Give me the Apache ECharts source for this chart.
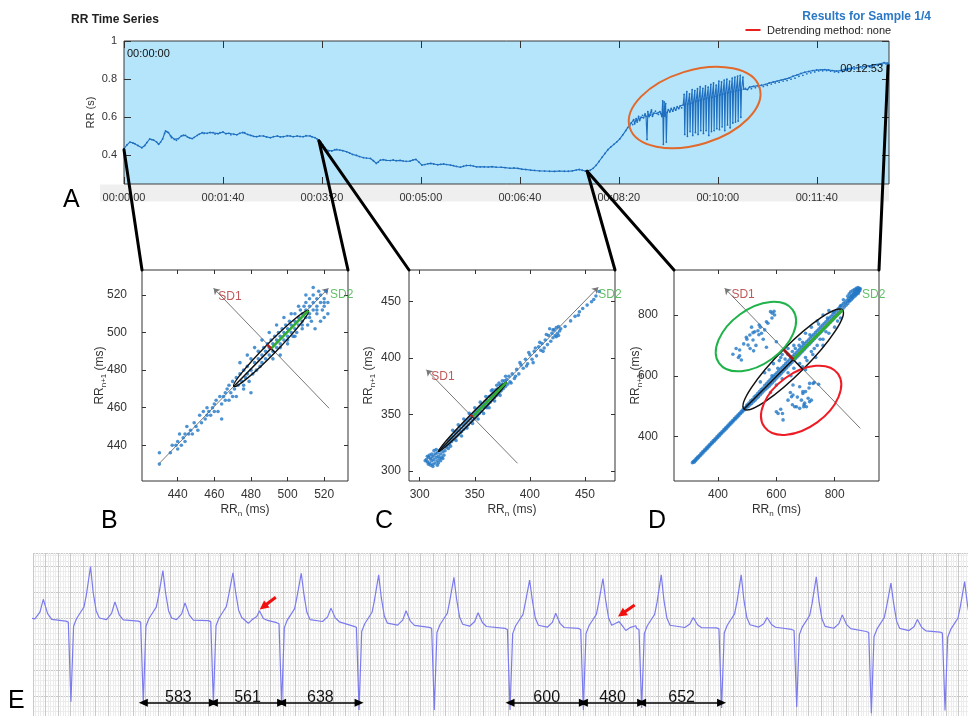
<!DOCTYPE html>
<html><head><meta charset="utf-8">
<script src="https://cdn.jsdelivr.net/npm/echarts@6/dist/echarts.min.js"></script>
<style>html,body{margin:0;padding:0;background:#fff}#c{width:968px;height:716px}</style>
</head><body><div id="c"></div>
<script>
// ---------------- DATA ----------------
// Panel A: RR time series [seconds, RR seconds]
const rrSeries = [[0,0.435],[3,0.455],[6,0.47],[9,0.465],[11,0.462],[14,0.452],[18,0.44],[21,0.452],[23,0.467],[26,0.486],[28,0.483],[30,0.48],[33,0.47],[35,0.458],[37,0.47],[39,0.486],[41,0.515],[42,0.528],[44,0.522],[45,0.519],[47,0.503],[48,0.493],[51,0.484],[53,0.479],[55,0.488],[58,0.502],[60,0.506],[62,0.505],[64,0.497],[66,0.492],[69,0.488],[71,0.495],[74,0.505],[76,0.512],[79,0.519],[81,0.515],[84,0.516],[87,0.52],[90,0.519],[92,0.512],[95,0.514],[97,0.519],[100,0.523],[103,0.514],[106,0.516],[108,0.508],[111,0.511],[114,0.508],[117,0.516],[120,0.52],[122,0.519],[125,0.51],[128,0.505],[131,0.5],[134,0.498],[137,0.502],[141,0.502],[144,0.497],[148,0.493],[151,0.498],[155,0.502],[158,0.497],[161,0.498],[165,0.503],[168,0.502],[171,0.498],[175,0.502],[178,0.499],[181,0.498],[184,0.503],[188,0.502],[190,0.497],[193,0.493],[195,0.487],[197,0.479],[199,0.47],[201,0.455],[203,0.44],[205,0.428],[207,0.423],[210,0.423],[213,0.43],[215,0.432],[218,0.428],[221,0.425],[225,0.419],[228,0.412],[231,0.405],[235,0.4],[238,0.394],[242,0.388],[245,0.386],[249,0.384],[252,0.372],[255,0.358],[257,0.365],[259,0.375],[262,0.378],[265,0.374],[269,0.373],[272,0.376],[275,0.372],[279,0.374],[282,0.371],[285,0.369],[289,0.37],[292,0.376],[295,0.379],[298,0.365],[301,0.349],[304,0.352],[307,0.356],[310,0.358],[313,0.355],[317,0.351],[320,0.353],[323,0.355],[326,0.352],[330,0.349],[333,0.346],[336,0.342],[340,0.338],[343,0.343],[346,0.347],[350,0.347],[353,0.344],[356,0.34],[360,0.34],[364,0.34],[368,0.339],[372,0.341],[376,0.338],[381,0.338],[385,0.336],[390,0.333],[394,0.334],[398,0.332],[402,0.328],[406,0.326],[411,0.323],[415,0.321],[420,0.319],[425,0.318],[430,0.317],[435,0.316],[440,0.318],[445,0.317],[449,0.317],[453,0.319],[457,0.323],[460,0.326],[463,0.322],[466,0.318],[468,0.317],[471,0.322],[474,0.332],[477,0.348],[480,0.368],[483,0.39],[486,0.41],[489,0.43],[492,0.445],[495,0.458],[498,0.471],[501,0.487],[504,0.508],[507,0.53],[509,0.546],
[511,0.556],[512.5,0.57],[514,0.562],[515,0.588],[516,0.565],[517.5,0.593],[518.5,0.575],[520,0.605],[521,0.583],[522.5,0.6],[524,0.61],[525,0.597],[526.5,0.618],[527.5,0.605],[528.5,0.484],[529.3,0.63],[530.5,0.603],[532,0.612],[533,0.638],[534,0.605],[535.5,0.622],[537,0.632],[538.5,0.62],[540,0.615],[541.5,0.63],[542.5,0.62],[543.5,0.604],[544.3,0.686],[545,0.458],[545.8,0.68],[546.6,0.605],[547.3,0.672],[548,0.47],[548.8,0.625],[550,0.64],[551.5,0.628],[553,0.646],[554.5,0.632],[556,0.65],[557.5,0.637],[559,0.656],[560.5,0.645],[562,0.66],[563.5,0.65],[565,0.664],
[566,0.72],[566.6,0.51],[567.3,0.668],[568.7,0.735],[569.3,0.5],[570,0.67],[571.4,0.722],[572,0.525],[572.7,0.674],[574.1,0.745],[574.7,0.505],[575.4,0.678],[576.8,0.74],[577.4,0.52],[578.1,0.684],[579.5,0.75],[580.1,0.51],[580.8,0.688],[582.2,0.76],[582.8,0.53],[583.5,0.692],[584.9,0.752],[585.5,0.515],[586.2,0.696],[587.6,0.765],[588.2,0.53],[588.9,0.7],[590.3,0.758],[590.9,0.505],[591.6,0.703],[593,0.772],[593.6,0.525],[594.3,0.706],[595.7,0.78],[596.3,0.53],[597,0.71],[598.4,0.768],[599,0.54],[599.7,0.714],[601.1,0.79],[601.7,0.535],[602.4,0.718],[603.8,0.785],[604.4,0.55],[605.1,0.722],[606.5,0.795],[607.1,0.53],[607.8,0.726],[609.2,0.8],[609.8,0.56],[610.5,0.73],[611.9,0.79],[612.5,0.545],[613.2,0.733],[614.6,0.805],[615.2,0.57],[615.9,0.736],[617.3,0.81],[617.9,0.575],[618.6,0.739],[620,0.815],[620.6,0.58],[621.3,0.742],[622.7,0.82],[623.3,0.6],[624,0.745],[625.4,0.81],[626.2,0.748],
[628,0.752],[630,0.745],[632,0.758],[634,0.75],[636,0.762],[638,0.755],[640,0.765],[642,0.758],[644,0.768],[646,0.762],[648,0.772],[650,0.768],[652,0.78],[654,0.774],[656,0.785],[658,0.78],[660,0.79],[662,0.784],[664,0.795],[666,0.79],[668,0.8],[670,0.793],[672,0.806],[674,0.8],[676,0.815],[678,0.805],[680,0.822],[682,0.815],[684,0.83],[686,0.82],[688,0.836],[690,0.828],[692,0.84],[694,0.833],[696,0.845],[698,0.838],[700,0.848],[702,0.843],[704,0.849],[706,0.844],[708,0.85],[710,0.845],[712,0.848],[714,0.842],[716,0.845],[718,0.838],[720,0.842],[722,0.836],[724,0.845],[726,0.84],[728,0.85],[730,0.845],[732,0.855],[734,0.849],[736,0.858],[738,0.852],[740,0.86],[742,0.855],[744,0.864],[746,0.858],[748,0.866],[750,0.862],[752,0.87],[754,0.864],[756,0.872],[758,0.867],[760,0.876],[762,0.871],[764,0.88],[766,0.876],[768,0.886],[770,0.88],[772,0.884],[773,0.874]];
const timeTicks = [0,100,200,300,400,500,600,700];
const rrTicks = [0.4,0.6,0.8,1];
// ellipse: [cx, cy, majorEndX, majorEndY, minorEndX, minorEndY]
const irregularEllipse = [[576.6,0.651,642.2,0.756,587.6,0.465]];
// connector start points on the time series (s, RR)
const linkPoints = [[0,0.43],[197,0.476],[468,0.317],[772,0.87]];

// Panel B Poincare (ms)
const poincareB = [[430,430],[430,436],[436,436],[437,440],[439,440],[440,438],[440,442],[441,446],[442,440],[443,444],[444,446],[444,442],[445,450],[446,446],[447,448],[448,446],[449,452],[450,450],[451,448],[452,456],[453,452],[454,458],[455,454],[456,456],[456,460],[457,458],[458,456],[459,460],[460,462],[460,458],[461,464],[462,458],[463,466],[464,462],[464,454],[465,466],[466,468],[466,464],[467,470],[468,464],[468,472],[469,468],[470,466],[470,474],[471,470],[472,476],[473,472],[474,478],[475,474],[476,472],[476,480],[477,476],[478,478],[478,482],[479,474],[480,468],[480,480],[480,486],[481,478],[482,484],[483,480],[484,486],[484,490],[485,482],[486,488],[486,484],[487,492],[488,486],[488,490],[489,494],[490,488],[490,492],[491,496],[492,490],[492,494],[493,498],[494,492],[494,496],[495,500],[496,494],[496,498],[496,488],[497,502],[498,496],[498,500],[499,504],[500,498],[500,502],[500,494],[501,506],[502,500],[502,504],[503,498],[504,502],[504,506],[504,510],[505,500],[506,504],[506,508],[507,512],[508,506],[508,510],[508,502],[509,514],[510,508],[510,512],[510,516],[511,504],[512,510],[512,514],[512,518],[513,506],[514,512],[514,516],[514,520],[514,524],[515,502],[516,514],[516,518],[516,510],[517,522],[518,516],[518,520],[518,506],[519,512],[520,514],[520,518],[521,522],[522,510],[522,516],[520,508],[510,520],[506,514],[502,510],[498,508],[494,504],[490,500],[486,496],[482,492],[478,488],[474,484],[492,486],[496,492],[500,496],[504,498],[508,504],[512,508],[516,512],[520,516],[476,470],[472,466]];
const ticksB = [440,460,480,500,520];
const ellipseB = [[491,491.5,511.4,511.7,488.9,493.6]];
const sd2B = [[491,491.5,511.4,511.7]], sd1B = [[491,491.5,488.9,493.6]], axB = [[470.6,471.3,491,491.5],[491,491.5,493.1,489.4]];
const guideB = [[[430,430.4],[522.3,523.6]],[[522.7,459.7],[459.6,523.6]]];
const sdLabB = [[462.2,519.1],[523.2,520]];

// Panel C Poincare (ms)
const poincareC = [[306,310],[307,308],[308,312],[309,307],[310,311],[311,309],[312,313],[313,310],[314,307],[314,315],[315,312],[316,309],[316,316],[317,313],[318,311],[318,318],[319,315],[320,312],[320,320],[321,317],[322,314],[308,306],[310,305],[312,306],[309,314],[313,318],[315,319],[317,307],[319,309],[311,315],[307,313],[305,309],[312,304],[316,305],[321,311],[323,318],[324,321],[322,322],
[325,323],[326,327],[327,324],[328,329],[329,326],[330,331],[331,328],[332,334],[333,330],[334,336],[335,332],[336,339],[337,334],[338,335],[339,341],[340,337],[341,343],[342,339],[343,345],[344,341],[345,347],[346,343],[347,349],[348,345],[349,351],[350,347],[351,353],[352,349],[353,355],[354,351],[355,357],[356,353],[357,359],[358,356],[359,361],[360,357],[361,363],[362,359],[363,366],[364,361],[365,367],[366,363],[367,369],[368,365],[369,372],[370,367],[371,373],[372,369],[373,376],[374,371],[375,377],[376,373],[377,380],[378,375],[379,381],[380,377],[381,384],[382,379],[383,378],[328,322],[333,327],[338,331],[343,338],[348,342],[353,346],[358,351],[363,356],[368,362],[373,367],[330,336],[335,341],[340,346],[345,351],[350,356],[355,361],[360,366],[365,371],[370,376],[375,380],[326,320],[361,356],[366,372],[372,378],[378,384],[384,386],[386,382],
[388,390],[390,386],[392,394],[394,391],[396,399],[398,395],[400,403],[402,399],[403,396],[404,406],[406,402],[408,410],[410,407],[411,413],[413,409],[414,416],[416,412],[417,420],[419,415],[420,422],[421,418],[422,425],[423,420],[424,427],[425,422],[426,428],[427,424],[418,426],[415,421],[412,406],[405,409],[397,393],[391,396],[387,384],[428,426],[409,414],[399,405],[421,425],[424,419],[426,420],
[432,428],[437,433],[441,437],[445,441],[448,444],[452,447],[456,450],[460,455],[463,459],[458,452],[444,438]];
const ticksC = [300,350,400,450];
const ellipseC = [[348,348,378.8,378.7,346.2,349.8]];
const sd2C = [[348,348,378.8,378.7]], sd1C = [[348,348,346.2,349.8]], axC = [[317.2,317.3,348,348],[348,348,349.8,346.2]];
const guideC = [[[306,306.8],[462.1,462.8]],[[388.8,306.8],[306.1,389.7]]];
const sdLabC = [[310.6,383.2],[462.1,455.9]];

// Panel D Poincare (ms)
const poincareD = [[312,314],[315,318],[318,316],[320,322],[323,321],[325,328],[328,326],[330,333],[333,331],[336,338],[339,337],[342,345],[345,343],[348,351],[351,349],[354,357],[357,355],[360,363],[363,361],[366,369],[369,367],[372,375],[375,373],[378,381],[381,379],[384,387],[387,385],[390,393],[393,391],[396,399],[399,397],[402,405],[405,403],[408,411],[411,409],[414,417],[417,415],[420,423],[423,421],[426,429],[429,427],[432,435],[435,433],[438,441],[441,439],[444,447],[447,445],[450,453],[453,451],[456,459],[459,457],[462,465],[465,463],[468,471],[471,469],[474,477],[477,475],[480,483],[483,481],[486,489],[489,487],[492,495],[495,493],[498,501],
[500,505],[503,498],[506,510],[509,504],[512,518],[515,509],[518,522],[521,515],[524,530],[527,520],[530,535],[533,526],[536,542],[539,531],[542,548],[545,538],[548,555],[551,544],[554,560],[557,550],[560,568],[563,556],[566,574],[569,561],[572,580],[575,566],[578,586],[581,572],[584,592],[587,578],[590,598],[593,584],[596,604],[599,590],[602,610],[605,596],[608,616],[611,602],[614,622],[617,608],[620,628],[623,614],[626,634],[629,620],[632,640],[635,626],[638,646],[641,632],[644,652],[647,638],[650,658],[653,644],[656,664],[659,650],[662,670],[665,656],[668,676],[671,662],[674,682],[677,668],[680,688],[683,674],[686,694],[689,680],[692,700],[695,686],[698,706],[701,692],[704,712],[707,698],[710,718],[713,704],[716,724],[719,710],[722,730],[725,716],[728,736],[731,722],[734,742],[737,728],[740,748],[743,734],[746,754],[749,740],[752,760],[755,746],[758,766],[761,752],[764,772],[767,758],[770,778],[773,764],[776,784],[779,770],[782,790],[785,776],[788,796],[791,782],[794,802],[797,788],[800,808],[803,794],[806,814],[809,800],[812,820],[815,806],[818,826],[821,812],[824,832],[827,818],[830,838],[833,826],[836,842],[839,832],[842,848],[845,838],[848,854],[851,845],[854,860],[857,850],[860,866],[863,857],[866,872],[869,862],[872,878],[875,869],[878,884],[881,875],[884,888],[886,880],[888,886],[876,882],[870,874],[865,868],[858,862],
[560,610],[575,620],[590,640],[610,650],[620,670],[640,690],[660,700],[680,720],[700,740],[720,760],[740,780],[760,800],[780,815],[600,570],[620,590],[640,610],[660,625],[680,640],[700,660],[720,680],[740,700],[760,720],[780,740],[800,760],[820,790],[650,600],[690,630],[730,690],[770,745],[810,780],[580,545],[545,580],[700,620],[735,660],[760,700],[615,660],[640,670],[665,690],[690,710],[715,735],[745,770],[775,790],[795,810],[820,830],[705,650],[725,670],[750,720],[585,600],[605,625],[630,655],[655,680],[678,700],[830,850],[845,862],[850,870],[855,876],[862,880],[868,884],[874,888],[880,890],[878,870],[872,866],[860,855],[850,848],
[451,671],[474,685],[480,652],[497,727],[499,720],[509,734],[520,718],[526,745],[537,748],[522,682],[541,767],[549,740],[560,751],[566,778],[571,773],[580,811],[586,806],[566,694],[594,800],[600,712],[474,666],[503,701],[462,690],[470,660],[488,705],[510,690],[515,760],[530,700],[545,760],[555,720],[585,790],[592,812],[540,735],[520,742],
[600,482],[606,476],[621,476],[623,455],[652,531],[657,537],[663,498],[669,498],[680,493],[686,520],[691,542],[694,498],[697,510],[703,498],[709,526],[714,515],[720,520],[657,570],[680,564],[714,575],[726,575],[691,548],[615,490],[640,520],[655,505],[672,530],[700,548],[712,560],[730,578],[745,572],[648,545],[695,505]];
const ticksD = [400,600,800];
const ellipseD = [[657.8,653.6,826.5,816.4,624.8,686.8]];
const shortLongCluster = [[530,729,656,817,478,804]];
const longShortCluster = [[685,519.4,811,607,633,594]];
const sd2D = [[657.8,653.6,826.5,816.4]], sd1D = [[657.8,653.6,624.8,686.8]], axD = [[489.1,490.8,657.8,653.6],[657.8,653.6,690.8,620.4]];
const guideD = [[[312,312],[889,887.8]],[[888,427],[423,887.8]]];
const sdLabD = [[445.9,865.8],[893.7,865.8]];

// Panel E ECG: beat times (ms), baseline, S depth, R peak, T offset (ms), T level (mV)
const beatMs   = [-290, 314, 916, 1499, 2067, 2711, 3337, 3967, 4577, 5062, 5727, 6352, 6973, 7586];
const beatBase = [-0.05,-0.06,-0.06,-0.05,-0.09,-0.16,-0.18,-0.2,-0.2,-0.2,-0.19,-0.22,-0.26,-0.27];
const beatS    = [-1.6,-1.61,-1.63,-1.63,-1.67,-1.77,-1.77,-1.77,-1.77,-1.73,-1.73,-1.71,-1.83,-1.78];
const beatR    = [0.9,0.99,0.91,0.87,0.86,0.83,0.78,0.73,0.76,0.83,0.83,0.79,0.67,0.7];
const beatTms  = [374,366,347,null,410,391,364,380,null,429,379,379,383,380];
const beatT    = [0.36,0.31,0.29,null,0.19,0.14,0.1,0.09,null,0.01,0.01,0.06,-0.03,0.0];
const qrsDt  = [-42,-22,0,22,47,83,108,128,163,185,210,236];
const qrsRel = [0,-0.02,null,-0.1,0.05,0.18,0.27,0.5,null,0.55,0.2,0.06];
const tWaveDt  = [-70,-28,0,36,70];
const tWaveFrac = [0.08,0.4,1,0.33,0.06];
const notchedTail = {3: [[291,-0.1],[319,-0.04],[361,0.03],[383,0.14],[416,-0.01],[444,-0.04]],
                     8: [[270,-0.1],[297,-0.07],[325,-0.15],[353,-0.24],[394,-0.18],[436,-0.15]]};
const rrIntervals = [[2,3,'583'],[3,4,'561'],[4,5,'638'],[7,8,'600'],[8,9,'480'],[9,10,'652']];
const rrArrowLevel = -1.63;
const pArrows = [[[2018,0.398],[1914,0.217]],[[5004,0.25],[4896,0.077]]];

// ---------------- BUILD ----------------
const FONT = 'Liberation Sans, Arial, sans-serif';
const pad2 = n => String(n).padStart(2,'0');
const hms = s => pad2(Math.floor(s/3600)) + ':' + pad2(Math.floor(s%3600/60)) + ':' + pad2(Math.round(s%60));

const ecgLine = [];
beatMs.forEach((t0, i) => {
  const base = beatBase[i];
  qrsDt.forEach((dt, k) => {
    let v;
    if (k === 2) v = beatS[i]; else if (k === 8) v = beatR[i]; else v = base + qrsRel[k];
    ecgLine.push([t0 + dt, v]);
  });
  if (beatTms[i] !== null) {
    const tt = t0 + beatTms[i], amp = beatT[i] - base;
    tWaveDt.forEach((dt, k) => ecgLine.push([tt + dt, k === 2 ? beatT[i] : base + tWaveFrac[k]*amp]));
  } else {
    notchedTail[i].forEach(p => ecgLine.push([t0 + p[0], p[1]]));
  }
});

const xAxes = [], yAxes = [];
function boxAxes(gi, xr, yr, xt, yt, o) {
  const lab = {fontSize:o.fs, color:'#333', fontFamily:FONT};
  const tick = {inside:false, length:-o.tl, lineStyle:{color:'#333'}};
  xAxes.push({type:'value', gridIndex:gi, min:xr[0], max:xr[1], position:'bottom',
    axisLine:{show:false, onZero:false}, splitLine:{show:false},
    axisTick:Object.assign({customValues:xt}, tick),
    axisLabel:Object.assign({customValues:xt, margin:o.xm, formatter:o.xf}, lab),
    name:o.xn, nameLocation:'middle', nameGap:o.xg, nameMoveOverlap:false,
    nameTextStyle:o.nts});
  xAxes.push({type:'value', gridIndex:gi, min:xr[0], max:xr[1], position:'top',
    axisLine:{show:false, onZero:false}, splitLine:{show:false},
    axisTick:Object.assign({customValues:xt}, tick), axisLabel:{show:false}});
  yAxes.push({type:'value', gridIndex:gi, min:yr[0], max:yr[1], position:'left',
    axisLine:{show:false, onZero:false}, splitLine:{show:false},
    axisTick:Object.assign({customValues:yt}, tick),
    axisLabel:Object.assign({customValues:yt, margin:o.ym, formatter:o.yf}, lab),
    name:o.yn, nameLocation:'middle', nameGap:o.yg, nameRotate:90, nameMoveOverlap:false,
    nameTextStyle:o.nts});
  yAxes.push({type:'value', gridIndex:gi, min:yr[0], max:yr[1], position:'right',
    axisLine:{show:false, onZero:false}, splitLine:{show:false},
    axisTick:Object.assign({customValues:yt}, tick), axisLabel:{show:false}});
}
const richName = {rich:{
  a:{fontSize:12, color:'#333', lineHeight:16, fontFamily:FONT},
  s:{fontSize:8, color:'#333', lineHeight:8, verticalAlign:'bottom', fontFamily:FONT}}};

boxAxes(0, [0,773], [0.25,1.0], timeTicks, rrTicks,
  {fs:11, tl:7, xm:8, ym:7, xf:v=>hms(v), yf:v=>String(v), xn:'', yn:'RR (s)', xg:0, yg:28,
   nts:{fontSize:11, color:'#333', fontFamily:FONT}});
boxAxes(1, [420.5,533], [421,533.3], ticksB, ticksB,
  {fs:12, tl:4, xm:8, ym:15, xn:'{a|RR}{s|n}{a| (ms)}', yn:'{a|RR}{s|n+1}{a| (ms)}', xg:21, yg:34, nts:richName});
boxAxes(2, [290.3,477.3], [291.1,478.1], ticksC, ticksC,
  {fs:12, tl:4, xm:8, ym:8, xn:'{a|RR}{s|n}{a| (ms)}', yn:'{a|RR}{s|n+1}{a| (ms)}', xg:21, yg:32, nts:richName});
boxAxes(3, [249,952], [254,948], ticksD, ticksD,
  {fs:12, tl:4, xm:8, ym:16, xn:'{a|RR}{s|n}{a| (ms)}', yn:'{a|RR}{s|n+1}{a| (ms)}', xg:21, yg:30, nts:richName});
// ECG axes
xAxes.push({type:'value', gridIndex:4, min:0, max:7777, interval:104,
  axisLine:{show:false}, axisTick:{show:false}, axisLabel:{show:false},
  splitLine:{show:true, lineStyle:{color:'#c9c9c9', width:1}},
  minorTick:{show:false, splitNumber:5}, minorSplitLine:{show:true, lineStyle:{color:'#ececec', width:1}}});
yAxes.push({type:'value', gridIndex:4, min:-2, max:1.25, interval:0.5,
  axisLine:{show:false}, axisTick:{show:false}, axisLabel:{show:false},
  splitLine:{show:true, lineStyle:{color:'#c9c9c9', width:1}},
  minorTick:{show:false, splitNumber:5}, minorSplitLine:{show:true, lineStyle:{color:'#ececec', width:1}}});

function ellipseSeries(ax, data, color, width, z) {
  return {type:'custom', xAxisIndex:ax, yAxisIndex:ax, data, z, silent:true, clip:false,
    renderItem:(p, api) => {
      const c = api.coord([api.value(0), api.value(1)]);
      const a = api.coord([api.value(2), api.value(3)]);
      const b = api.coord([api.value(4), api.value(5)]);
      return {type:'ellipse', x:c[0], y:c[1], rotation:-Math.atan2(a[1]-c[1], a[0]-c[0]),
        shape:{cx:0, cy:0, rx:Math.hypot(a[0]-c[0], a[1]-c[1]), ry:Math.hypot(b[0]-c[0], b[1]-c[1])},
        style:{fill:null, stroke:color, lineWidth:width}};
    }};
}
function segSeries(ax, data, color, width, z) {
  return {type:'custom', xAxisIndex:ax, yAxisIndex:ax, data, z, silent:true, clip:false,
    renderItem:(p, api) => {
      const a = api.coord([api.value(0), api.value(1)]);
      const b = api.coord([api.value(2), api.value(3)]);
      return {type:'line', shape:{x1:a[0], y1:a[1], x2:b[0], y2:b[1]},
        style:{stroke:color, lineWidth:width, lineCap:'butt'}};
    }};
}
function guideSeries(ax, lines) {
  return {type:'line', xAxisIndex:ax, yAxisIndex:ax, data:[], silent:true, z:1,
    markLine:{silent:true, z:1, symbol:['none','arrow'], symbolSize:6, label:{show:false},
      lineStyle:{color:'#777', width:1, type:'solid'},
      data:lines.map(l => [{coord:l[0]}, {coord:l[1]}])}};
}
function labelSeries(ax, pt, text, color) {
  return {type:'scatter', xAxisIndex:ax, yAxisIndex:ax, symbolSize:0, silent:true, z:6,
    data:[{value:pt, name:text}],
    label:{show:true, position:'right', distance:0, formatter:'{b}', color, fontSize:12, fontFamily:FONT}};
}
function scatterSeries(ax, data) {
  return {type:'scatter', xAxisIndex:ax, yAxisIndex:ax, data, symbolSize:3.6, z:2, silent:true,
    itemStyle:{color:'#2177c6'}};
}

const series = [
  {type:'line', xAxisIndex:0, yAxisIndex:0, data:rrSeries, showSymbol:true, showAllSymbol:true,
   symbol:'circle', symbolSize:1.8, lineStyle:{color:'#1f6fc0', width:1.1}, itemStyle:{color:'#1f6fc0'}, silent:true, z:2},
  ellipseSeries(0, irregularEllipse, '#e2692c', 2, 4),

  guideSeries(2, guideB), scatterSeries(2, poincareB), ellipseSeries(2, ellipseB, '#111', 1.4, 3),
  segSeries(2, axB, '#111', 1.4, 4), segSeries(2, sd2B, '#2fae2f', 2.5, 5), segSeries(2, sd1B, '#b01e1e', 2.5, 5),
  labelSeries(2, sdLabB[0], 'SD1', '#b03030'), labelSeries(2, sdLabB[1], 'SD2', '#3cb043'),

  guideSeries(4, guideC), scatterSeries(4, poincareC), ellipseSeries(4, ellipseC, '#111', 1.4, 3),
  segSeries(4, axC, '#111', 1.4, 4), segSeries(4, sd2C, '#2fae2f', 2.5, 5), segSeries(4, sd1C, '#b01e1e', 2.5, 5),
  labelSeries(4, sdLabC[0], 'SD1', '#b03030'), labelSeries(4, sdLabC[1], 'SD2', '#3cb043'),

  guideSeries(6, guideD), scatterSeries(6, poincareD), ellipseSeries(6, ellipseD, '#111', 1.5, 3),
  ellipseSeries(6, shortLongCluster, '#1fb34a', 2, 3), ellipseSeries(6, longShortCluster, '#ee1c24', 2, 3),
  segSeries(6, axD, '#111', 1.5, 4), segSeries(6, sd2D, '#2fae2f', 3, 5), segSeries(6, sd1D, '#9e1a1a', 3, 5),
  labelSeries(6, sdLabD[0], 'SD1', '#b03030'), labelSeries(6, sdLabD[1], 'SD2', '#3cb043'),

  {type:'line', xAxisIndex:8, yAxisIndex:8, data:ecgLine, showSymbol:false, silent:true, z:2,
   lineStyle:{color:'#7b7bee', width:1.2},
   markLine:{silent:true, symbol:['triangle','triangle'], symbolSize:[8,9],
     lineStyle:{color:'#000', width:1.5, type:'solid'},
     label:{show:true, position:'insideMiddleTop', distance:-3, formatter:'{b}', fontSize:16, color:'#111', fontFamily:FONT},
     data:rrIntervals.map(r => [{name:r[2], coord:[beatMs[r[0]], rrArrowLevel]}, {coord:[beatMs[r[1]], rrArrowLevel]}])}},
  {type:'line', xAxisIndex:8, yAxisIndex:8, data:[], silent:true, z:6,
   markLine:{silent:true, symbol:['none','triangle'], symbolSize:[9,9],
     lineStyle:{color:'#f01010', width:3, type:'solid'}, label:{show:false},
     data:pArrows.map(a => [{coord:a[0]}, {coord:a[1]}])}}
];

const gridBox = {show:true, borderColor:'#333', borderWidth:1, backgroundColor:'#fff', outerBoundsMode:'none', containLabel:false};
const option = {
  animation:false,
  textStyle:{fontFamily:FONT},
  grid:[
    Object.assign({}, gridBox, {left:124, top:41, width:765, height:143, backgroundColor:'#b4e5fa', borderColor:'#3a3a3a'}),
    Object.assign({}, gridBox, {left:142, top:270, width:206, height:211}),
    Object.assign({}, gridBox, {left:409, top:270, width:206, height:211}),
    Object.assign({}, gridBox, {left:674, top:270, width:205, height:211}),
    {left:33.2, top:553, width:934.8, height:169, show:false, outerBoundsMode:'none', containLabel:false}
  ],
  xAxis:xAxes, yAxis:yAxes, series,
  graphic:[
    {id:'band', type:'rect', z:-1, silent:true, shape:{x:100, y:184.5, width:789, height:17}, style:{fill:'#efefef'}},
    {id:'t1', type:'text', z:10, style:{text:'RR Time Series', x:71, y:20, font:'bold 12px '+FONT, fill:'#222', textVerticalAlign:'middle'}},
    {id:'t2', type:'text', z:10, style:{text:'Results for Sample 1/4', x:931, y:16.5, font:'bold 12px '+FONT, fill:'#2a78c6', textAlign:'right', textVerticalAlign:'middle'}},
    {id:'lgl', type:'line', z:10, shape:{x1:745.5, y1:30, x2:760.5, y2:30}, style:{stroke:'#e8201f', lineWidth:2}},
    {id:'lgt', type:'text', z:10, style:{text:'Detrending method: none', x:767, y:30.5, font:'11px '+FONT, fill:'#222', textVerticalAlign:'middle'}},
    {id:'s0', type:'text', z:10, style:{text:hms(rrSeries[0][0]), x:127, y:54, font:'11px '+FONT, fill:'#111', textVerticalAlign:'middle'}},
    {id:'s1', type:'text', z:10, style:{text:hms(rrSeries[rrSeries.length-1][0]), x:883, y:69, font:'11px '+FONT, fill:'#111', textAlign:'right', textVerticalAlign:'middle'}},
    {id:'LA', type:'text', z:10, style:{text:'A', x:63, y:200, font:'25px '+FONT, fill:'#000', textVerticalAlign:'middle'}},
    {id:'LB', type:'text', z:10, style:{text:'B', x:101, y:521, font:'25px '+FONT, fill:'#000', textVerticalAlign:'middle'}},
    {id:'LC', type:'text', z:10, style:{text:'C', x:375, y:521, font:'25px '+FONT, fill:'#000', textVerticalAlign:'middle'}},
    {id:'LD', type:'text', z:10, style:{text:'D', x:648, y:521, font:'25px '+FONT, fill:'#000', textVerticalAlign:'middle'}},
    {id:'LE', type:'text', z:10, style:{text:'E', x:8, y:701, font:'25px '+FONT, fill:'#000', textVerticalAlign:'middle'}}
  ]
};

const chart = echarts.init(document.getElementById('c'), null, {renderer:'canvas'});
chart.setOption(option);

// connector lines from the time series to the Poincare panels
const corner = (gi, xr, yr, right) => chart.convertToPixel({gridIndex:gi}, [right ? xr[1] : xr[0], yr[1]]);
const startPx = linkPoints.map(p => chart.convertToPixel({gridIndex:0}, p));
const cB = [[420.5,533],[421,533.3]], cC = [[290.3,477.3],[291.1,478.1]], cD = [[249,952],[254,948]];
const ends = [
  [0, corner(1, cB[0], cB[1], false)], [1, corner(1, cB[0], cB[1], true)],
  [1, corner(2, cC[0], cC[1], false)], [2, corner(2, cC[0], cC[1], true)],
  [2, corner(3, cD[0], cD[1], false)], [3, corner(3, cD[0], cD[1], true)]
];
chart.setOption({graphic: ends.map((e, i) => ({id:'link'+i, type:'line', z:20, silent:true,
  shape:{x1:startPx[e[0]][0], y1:startPx[e[0]][1], x2:e[1][0], y2:e[1][1]},
  style:{stroke:'#000', lineWidth:3, lineCap:'round'}}))});
</script></body></html>
